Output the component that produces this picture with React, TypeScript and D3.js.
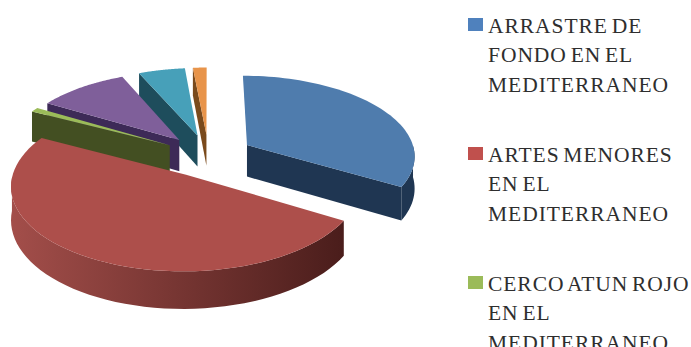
import React from "react";
import * as d3 from "d3";

// Share of each fishing gear, in percent, clockwise from twelve o'clock.
const shares = [33.5, 49.1, 0.9, 9.9, 5.1, 1.5];
const topColors = ["#4f7cad", "#ad4f4b", "#9bbb59", "#7f5f9a", "#47a0b9", "#e8944a"];
const wallColors = ["#1f3652", "#6d2f2c", "#434f22", "#3d2a57", "#1e4d5c", "#7a4a1c"];
const rimGradients = [
  ["#1f3652", "#1f3652"],
  ["#a34e4a", "#4a1d1b"],
  ["#434f22", "#434f22"],
  ["#3d2a57", "#3d2a57"],
  ["#1e4d5c", "#1e4d5c"],
  ["#7a4a1c", "#7a4a1c"],
];
// Slices are painted from the back of the pie towards the viewer.
const paintOrder = [5, 4, 3, 2, 0, 1];

const legendColors = ["#4f81bd", "#c0504d", "#9bbb59"];
const legendBaselines = [33, 162, 291];
const legendLines = [
  ["ARRASTRE DE", "FONDO EN EL", "MEDITERRANEO"],
  ["ARTES MENORES", "EN EL", "MEDITERRANEO"],
  ["CERCO ATUN ROJO", "EN EL", "MEDITERRANEO"],
];

const WIDTH = 691;
const HEIGHT = 347;
const cx = 208.5;
const cy = 155.5;
const radiusX = 168.5;
const radiusY = 80;
const perspective = 0.12;
const explode = 0.267;
const depth = 32;

// Flat disc coordinates to the screen, nearer points drawn larger; h lowers a point by the pie's thickness.
const project = (u: number, v: number, h = 0): [number, number] => {
  const w = 1 / (1 - perspective * v);
  return [cx + radiusX * u * w, cy + radiusY * v * w + h * depth * w];
};

const polar = (a: number, r = 1) => [Math.sin(a) * r, -Math.cos(a) * r];

const path = d3.line();
const arcs = d3.pie<number>().sort(null)(shares);

function slice(i: number) {
  const { startAngle: a0, endAngle: a1 } = arcs[i];
  const mid = (a0 + a1) / 2;
  const [ou, ov] = polar(mid, explode);
  const at = (a: number, h = 0) => {
    const [u, v] = polar(a);
    return project(ou + u, ov + v, h);
  };
  const apex = (h = 0) => project(ou, ov, h);
  const angles = d3.range(0, 61).map((k) => a0 + ((a1 - a0) * k) / 60);

  const top = path([apex(), ...angles.map((a) => at(a))]) + "Z";
  const startWall = path([apex(), at(a0), at(a0, 1), apex(1)]) + "Z";
  const endWall = path([apex(), at(a1), at(a1, 1), apex(1)]) + "Z";

  // Only the part of the rim on the near half of the pie faces the viewer.
  const front = angles.filter((a) => Math.cos(a) < 0);
  const rim = front.length
    ? path([...front.map((a) => at(a)), ...[...front].reverse().map((a) => at(a, 1))]) + "Z"
    : null;
  const rimXs = front.map((a) => at(a)[0]);
  // The rim's shading runs from its left end to its right end, dark on the right.
  const rimExtent = rimXs.length ? (d3.extent(rimXs) as [number, number]) : [0, 0];

  return {
    top,
    startWall: Math.sin(a0) < -0.01 ? startWall : null,
    endWall: Math.sin(a1) > 0.01 ? endWall : null,
    rim,
    rimExtent,
  };
}

export default function App() {
  return (
    <svg
      width={WIDTH}
      height={HEIGHT}
      viewBox={`0 0 ${WIDTH} ${HEIGHT}`}
      style={{ position: "fixed", left: 0, top: 0, background: "#fff" }}
    >
      <defs>
        {shares.map((_, i) => {
          const s = slice(i);
          return (
            <linearGradient
              key={i}
              id={`rim-${i}`}
              gradientUnits="userSpaceOnUse"
              x1={s.rimExtent[0]}
              x2={s.rimExtent[1]}
              y1={0}
              y2={0}
            >
              <stop offset="0" stopColor={rimGradients[i][0]} />
              <stop offset="1" stopColor={rimGradients[i][1]} />
            </linearGradient>
          );
        })}
      </defs>
      {paintOrder.map((i) => {
        const s = slice(i);
        return (
          <g key={i}>
            {s.startWall && <path d={s.startWall} fill={wallColors[i]} />}
            {s.endWall && <path d={s.endWall} fill={wallColors[i]} />}
            {s.rim && <path d={s.rim} fill={`url(#rim-${i})`} />}
            <path d={s.top} fill={topColors[i]} />
          </g>
        );
      })}
      {legendLines.map((lines, i) => {
        const base = legendBaselines[i];
        return (
          <g key={i}>
            <rect x={468} y={base - 15} width={15} height={13} fill={legendColors[i]} />
            {lines.map((line, j) => (
              <text
                key={j}
                x={488}
                y={base + j * 29.3}
                fontFamily="'Liberation Serif', serif"
                fontSize={21.5}
                letterSpacing={0.95}
                wordSpacing={-2.5}
                fill="#2e2e2e"
              >
                {line}
              </text>
            ))}
          </g>
        );
      })}
    </svg>
  );
}
